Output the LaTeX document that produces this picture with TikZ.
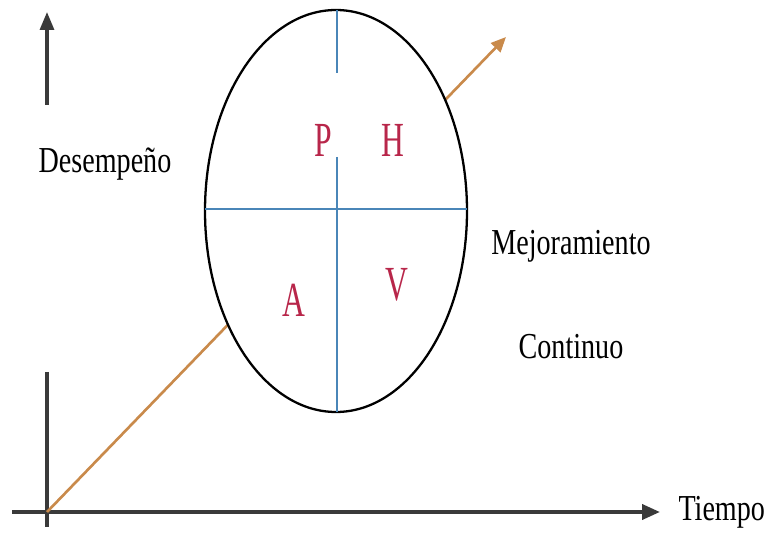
\documentclass[tikz,border=0pt]{standalone}
\usepackage{fontspec}
\setmainfont{Liberation Serif}
\usepackage{tikz}
\usetikzlibrary{arrows.meta}
\definecolor{axisgray}{HTML}{3A3A3A}
\definecolor{trendorange}{HTML}{C98A4B}
\definecolor{gridblue}{HTML}{4A86B8}
\definecolor{phvared}{HTML}{B8264A}

\begin{document}
\begin{tikzpicture}[x=0.02cm, y=-0.02cm, font=\fontsize{16}{18}\selectfont]
  \useasboundingbox (0,0) rectangle (768,533);
  % axes
  \coordinate (origin) at (47,512);
  \coordinate (xstart) at (12,512);
  \coordinate (xtip) at (660,512);
  \coordinate (ylow) at (47,105);
  \coordinate (ytip) at (47,12);
  \coordinate (ybase) at (47,372);
  \coordinate (yend) at (47,527);
  \coordinate (trendtip) at (506,37);
  \draw[axisgray, line width=2.2pt, -{Triangle[length=3.6mm, width=3mm]}] (xstart) -- (xtip);
  \draw[axisgray, line width=1.8pt, -{Triangle[length=3.6mm, width=2.8mm]}] (ylow) -- (ytip);
  \draw[axisgray, line width=1.8pt] (ybase) -- (yend);
  % trend line
  \draw[trendorange, line width=1.5pt, -{Triangle[length=3mm, width=2.6mm]}] (origin) -- (trendtip);
  % PHVA circle
  \coordinate (phva) at (336,211);
  \draw[black, line width=1.3pt, fill=white] (phva) ellipse [x radius=131, y radius=201];
  \draw[gridblue, line width=0.8pt] (205,209) -- (467,209);
  \draw[gridblue, line width=0.8pt] (337,10) -- (337,73);
  \draw[gridblue, line width=0.8pt] (337,157) -- (337,412);
  \node[phvared, font=\fontsize{18}{18}\selectfont, yscale=1.55] (p) at (323,140) {P};
  \node[phvared, font=\fontsize{18}{18}\selectfont, yscale=1.55] (h) at (393,140) {H};
  \node[phvared, font=\fontsize{18}{18}\selectfont, yscale=1.55] (a) at (294,300) {A};
  \node[phvared, font=\fontsize{18}{18}\selectfont, yscale=1.55] (v) at (397,285) {V};
  % labels
  \node[yscale=1.3] (desempeno) at (105,164) {Desempeño};
  \node[yscale=1.3] (mejora) at (571,246) {Mejoramiento};
  \node[yscale=1.3] (continuo) at (571,347) {Continuo};
  \node[yscale=1.3, right=7pt] (tiempo) at (xtip) {Tiempo};
\end{tikzpicture}
\end{document}
